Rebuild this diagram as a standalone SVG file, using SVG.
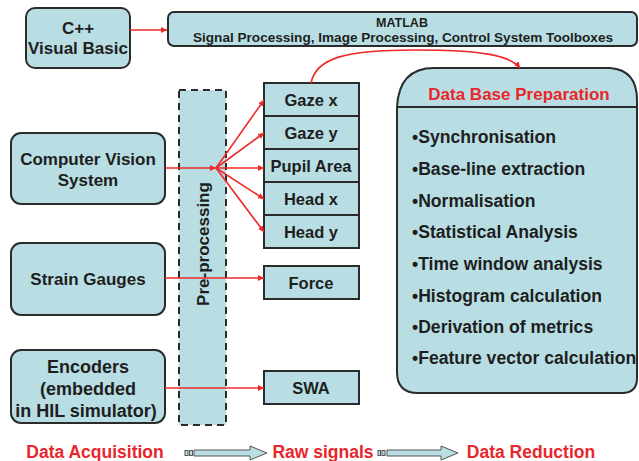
<svg xmlns="http://www.w3.org/2000/svg" width="639" height="461" viewBox="0 0 639 461">
<style>
.box{fill:#b8dee4;stroke:#2b2b2b;stroke-width:2}
.t{font-family:"Liberation Sans",Arial,sans-serif;font-weight:bold;fill:#1e1e1e;text-anchor:middle}
.r{font-family:"Liberation Sans",Arial,sans-serif;font-weight:bold;fill:#e8262b;text-anchor:middle}
.l{font-family:"Liberation Sans",Arial,sans-serif;font-weight:bold;fill:#1e1e1e;font-size:17.6px}
.c{fill:none;stroke:#f02828;stroke-width:1.6}
.ba{fill:#b8dee4;stroke:#555;stroke-width:1}
</style>
<defs>
<marker id="ah" viewBox="0 0 10 10" refX="10" refY="5" markerWidth="6" markerHeight="6" orient="auto" markerUnits="userSpaceOnUse">
<path d="M0,0 L10,5 L0,10 Z" fill="#f02828"/>
</marker>
</defs>
<rect width="639" height="461" fill="#fff"/>

<g id="preprocessing">
<rect x="179" y="90" width="47" height="335" fill="#b8dee4" stroke="#2b2b2b" stroke-width="2" stroke-dasharray="7,5"/>
<text class="t" font-size="17" transform="translate(209,244) rotate(-90)">Pre-processing</text>
</g>

<g id="cpp">
<rect class="box" x="26" y="8" width="104" height="60" rx="9"/>
<text class="t" font-size="17" x="78" y="34">C++</text>
<text class="t" font-size="17" x="78" y="54">Visual Basic</text>
</g>

<g id="matlab">
<rect class="box" x="168" y="12" width="469" height="34" rx="6"/>
<text class="t" font-size="12.5" x="402" y="27">MATLAB</text>
<text class="t" font-size="12.5" x="403" y="42" textLength="420" lengthAdjust="spacingAndGlyphs">Signal Processing, Image Processing, Control System Toolboxes</text>
</g>

<g id="cv">
<rect class="box" x="11" y="133" width="154" height="71" rx="10"/>
<text class="t" font-size="17" x="88" y="165">Computer Vision</text>
<text class="t" font-size="17" x="88" y="186">System</text>
</g>

<g id="strain">
<rect class="box" x="11" y="243" width="154" height="72" rx="10"/>
<text class="t" font-size="17" x="88" y="285">Strain Gauges</text>
</g>

<g id="encoders">
<rect class="box" x="11" y="350" width="154" height="73" rx="10"/>
<text class="t" font-size="18" x="88" y="373">Encoders</text>
<text class="t" font-size="18" x="88" y="395">(embedded</text>
<text class="t" font-size="18" x="86" y="417">in HIL simulator)</text>
</g>

<g id="gazex">
<rect class="box" x="264" y="83" width="95" height="33"/>
<text class="t" font-size="16.5" x="311" y="106">Gaze x</text>
</g>
<g id="gazey">
<rect class="box" x="264" y="116" width="95" height="33"/>
<text class="t" font-size="16.5" x="311" y="139">Gaze y</text>
</g>
<g id="pupil">
<rect class="box" x="264" y="149" width="95" height="33"/>
<text class="t" font-size="16.5" x="311" y="172">Pupil Area</text>
</g>
<g id="headx">
<rect class="box" x="264" y="182" width="95" height="33"/>
<text class="t" font-size="16.5" x="311" y="205">Head x</text>
</g>
<g id="heady">
<rect class="box" x="264" y="215" width="95" height="33"/>
<text class="t" font-size="16.5" x="311" y="238">Head y</text>
</g>

<g id="force">
<rect class="box" x="264" y="266" width="95" height="33"/>
<text class="t" font-size="16.5" x="311" y="289">Force</text>
</g>

<g id="swa">
<rect class="box" x="264" y="371" width="95" height="33"/>
<text class="t" font-size="16.5" x="311" y="394">SWA</text>
</g>

<g id="dbprep">
<path class="box" d="M397,107 Q399,68 434,68 L610,68 Q637,70 637,100 L637,378 Q637,393 622,393 L418,393 Q397,393 397,372 Z"/>
<line x1="397" y1="107" x2="637" y2="107" stroke="#2b2b2b" stroke-width="2"/>
<text class="r" font-size="17" x="519" y="100">Data Base Preparation</text>
<text class="l" x="412" y="143">•Synchronisation</text>
<text class="l" x="412" y="175">•Base-line extraction</text>
<text class="l" x="412" y="207">•Normalisation</text>
<text class="l" x="412" y="238">•Statistical Analysis</text>
<text class="l" x="412" y="270">•Time window analysis</text>
<text class="l" x="412" y="302">•Histogram calculation</text>
<text class="l" x="412" y="333">•Derivation of metrics</text>
<text class="l" x="412" y="364">•Feature vector calculation</text>
</g>

<g id="connectors">
<line class="c" x1="130" y1="30" x2="167" y2="30" marker-end="url(#ah)"/>
<line class="c" x1="165" y1="168" x2="216" y2="168" marker-end="url(#ah)"/>
<line class="c" x1="216" y1="168" x2="264" y2="100" marker-end="url(#ah)"/>
<line class="c" x1="216" y1="168" x2="264" y2="133" marker-end="url(#ah)"/>
<line class="c" x1="216" y1="168" x2="264" y2="168" marker-end="url(#ah)"/>
<line class="c" x1="216" y1="168" x2="264" y2="199" marker-end="url(#ah)"/>
<line class="c" x1="216" y1="168" x2="264" y2="232" marker-end="url(#ah)"/>
<line class="c" x1="165" y1="278" x2="264" y2="278" marker-end="url(#ah)"/>
<line class="c" x1="165" y1="388" x2="264" y2="388" marker-end="url(#ah)"/>
<path class="c" d="M311,83 C316,58 345,50 415,50 C480,50 510,55 520,68" marker-end="url(#ah)"/>
</g>

<g id="legend">
<text class="r" font-size="17.5" x="95" y="458">Data Acquisition</text>
<rect class="ba" x="185" y="450.5" width="3" height="5"/>
<rect class="ba" x="189.5" y="450.5" width="3" height="5"/>
<path class="ba" d="M194,450 L250,450 L250,446 L267,453 L250,460 L250,456 L194,456 Z"/>
<text class="r" font-size="17.5" x="323" y="458">Raw signals</text>
<rect class="ba" x="378" y="450.5" width="2.5" height="5"/>
<rect class="ba" x="382" y="450.5" width="3" height="5"/>
<path class="ba" d="M387,450 L441,450 L441,446 L458,453 L441,460 L441,456 L387,456 Z"/>
<text class="r" font-size="17.5" x="531" y="458">Data Reduction</text>
</g>
</svg>
